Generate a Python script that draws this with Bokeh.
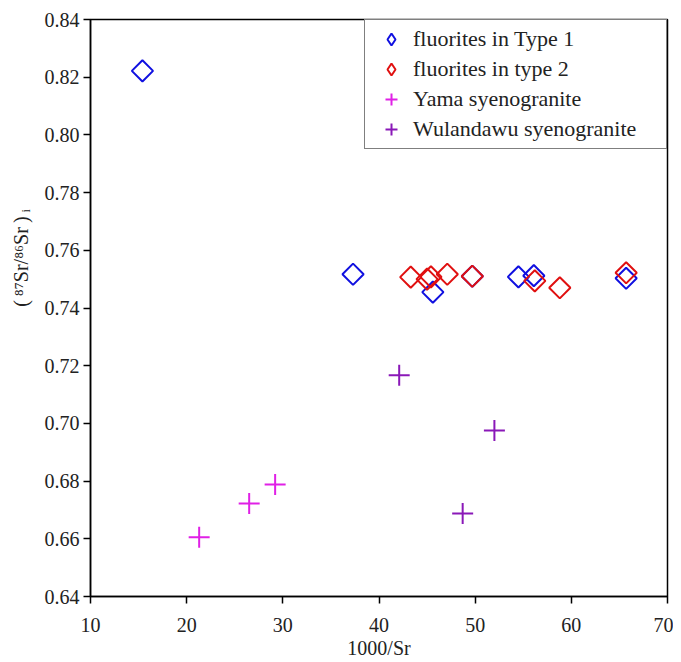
import math
from bokeh.plotting import figure
from bokeh.models import FixedTicker, NumeralTickFormatter, Legend, LegendItem
from bokeh.embed import file_html
from bokeh.resources import INLINE

# Data
type1_x = [15.4, 37.3, 45.6, 49.7, 54.5, 56.1, 65.7]
type1_y = [0.8222, 0.7517, 0.7455, 0.7510, 0.7508, 0.7512, 0.7503]
type2_x = [43.3, 45.0, 45.4, 47.1, 49.7, 56.2, 58.8, 65.7]
type2_y = [0.7507, 0.7500, 0.7508, 0.7517, 0.7510, 0.7494, 0.7470, 0.7522]
yama_x = [21.3, 26.5, 29.2]
yama_y = [0.6605, 0.6722, 0.6788]
wula_x = [42.1, 52.0, 48.7]
wula_y = [0.7167, 0.6975, 0.6688]

x_ticks = [10, 20, 30, 40, 50, 60, 70]
y_ticks = [0.64, 0.66, 0.68, 0.70, 0.72, 0.74, 0.76, 0.78, 0.80, 0.82, 0.84]

labels = ["fluorites in Type 1", "fluorites in type 2",
          "Yama syenogranite", "Wulandawu syenogranite"]

FONT = "Liberation Serif"
BLUE, RED, MAG, PUR = "#1010e0", "#e01010", "#e020e6", "#8a18b8"

p = figure(width=673, height=661, x_range=(10, 70), y_range=(0.64, 0.84),
           output_backend="svg", toolbar_location=None,
           min_border_left=90, min_border_right=6, min_border_top=19, min_border_bottom=60)
p.grid.visible = False
p.background_fill_color = "white"
p.outline_line_color = "black"
p.outline_line_width = 1.5

for ax in (p.xaxis[0], p.yaxis[0]):
    ax.axis_line_color = "black"
    ax.axis_line_width = 1.5
    ax.major_tick_line_color = "black"
    ax.major_tick_line_width = 1.5
    ax.major_tick_out = 7
    ax.major_tick_in = 0
    ax.minor_tick_line_color = None
    ax.major_label_text_font = FONT
    ax.major_label_text_font_size = "20px"
    ax.major_label_text_color = "#222222"
    ax.axis_label_text_font = FONT
    ax.axis_label_text_font_style = "normal"
    ax.axis_label_text_color = "#222222"
    ax.axis_label_text_font_size = "20px"

p.xaxis.ticker = FixedTicker(ticks=x_ticks)
p.yaxis.ticker = FixedTicker(ticks=y_ticks)
p.yaxis.formatter = NumeralTickFormatter(format="0.00")
p.xaxis.major_label_standoff = 14
p.yaxis.major_label_standoff = 4
p.xaxis.axis_label = "1000/Sr"
p.xaxis.axis_label_standoff = 2
p.yaxis.axis_label = "\u2003\u2003\u2003\u2003\u2003(\u2009⁸⁷Sr/⁸⁶Sr\u2009)\u2009ᵢ"
p.yaxis.axis_label_standoff = 10

r1 = p.scatter(type1_x, type1_y, marker="square", size=15, angle=math.pi / 4,
               fill_color=None, line_color=BLUE, line_width=2)
r2 = p.scatter(type2_x, type2_y, marker="square", size=15, angle=math.pi / 4,
               fill_color=None, line_color=RED, line_width=2)
r3 = p.scatter(yama_x, yama_y, marker="cross", size=21,
               line_color=MAG, line_width=2)
r4 = p.scatter(wula_x, wula_y, marker="cross", size=21,
               line_color=PUR, line_width=2)

# legend swatches: same data, zero size on the plot, diamond outline in the legend
l1 = p.scatter(type1_x, type1_y, marker="diamond", size=0,
               fill_color=None, line_color=BLUE, line_width=2)
l2 = p.scatter(type2_x, type2_y, marker="diamond", size=0,
               fill_color=None, line_color=RED, line_width=2)

legend = Legend(items=[
    LegendItem(label=labels[0], renderers=[l1]),
    LegendItem(label=labels[1], renderers=[l2]),
    LegendItem(label=labels[2], renderers=[r3]),
    LegendItem(label=labels[3], renderers=[r4]),
], location="top_right")
legend.margin = 0
legend.padding = 4
legend.border_line_color = "black"
legend.border_line_width = 1.5
legend.label_text_font = FONT
legend.label_text_font_size = "22px"
legend.label_text_color = "#222222"
legend.glyph_width = 44
legend.glyph_height = 30
legend.label_height = 30
legend.label_width = 249
legend.spacing = 0
legend.label_standoff = 0
legend.background_fill_alpha = 1.0
p.add_layout(legend)

open("out.html", "w").write(file_html(p, INLINE))
